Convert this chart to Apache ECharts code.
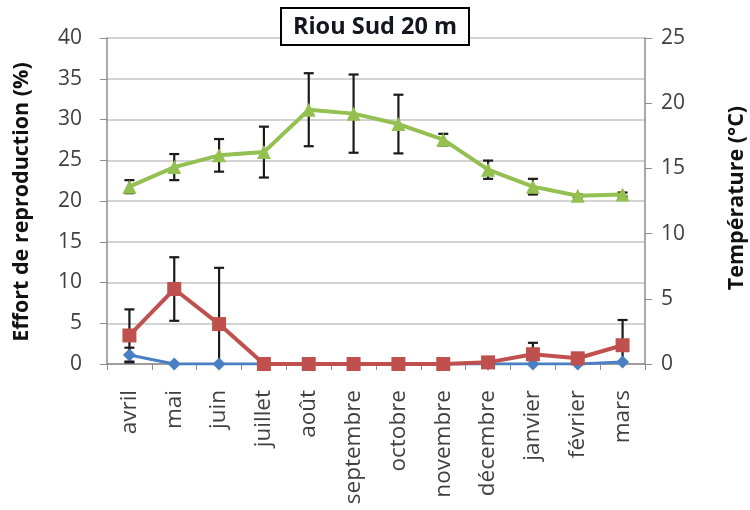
<!DOCTYPE html>
<html>
<head>
<meta charset="utf-8">
<script src="https://cdn.jsdelivr.net/npm/echarts@6/dist/echarts.min.js"></script>
<style>html,body{margin:0;padding:0;background:#fff;}#c{width:750px;height:510px;}</style>
</head>
<body>
<div id="c"></div>
<script>
const months = ['avril','mai','juin','juillet','août','septembre','octobre','novembre','décembre','janvier','février','mars'];
const temperature = [13.6, 15.1, 16.0, 16.25, 19.5, 19.2, 18.4, 17.2, 14.9, 13.6, 12.9, 13.0];
const temperatureErr = [0.5, 1.0, 1.25, 1.95, 2.8, 3.0, 2.25, 0.45, 0.7, 0.6, 0.1, 0.15];
const effortRed = [3.5, 9.2, 4.9, 0, 0, 0, 0, 0, 0.2, 1.2, 0.7, 2.3];
const effortRedErr = [3.2, 3.9, 6.9, 0, 0, 0, 0, 0, 0.2, 1.4, 0.3, 3.1];
const effortBlue = [1.1, 0, 0, 0, 0, 0, 0, 0, 0, 0, 0, 0.25];
const effortBlueErr = [0.9, 0, 0, 0, 0, 0, 0, 0, 0, 0, 0, 0];
const leftTicks = {min: 0, max: 40, interval: 5};
const rightTicks = {min: 0, max: 25, interval: 5};

const FONT = '"Open Sans", "Liberation Sans", sans-serif';

function errorBars(vals, errs, yAxisIndex) {
  return {
    type: 'custom',
    yAxisIndex: yAxisIndex,
    clip: true,
    z: 1,
    silent: true,
    data: vals.map((v, i) => [i, v - errs[i], v + errs[i], errs[i]]),
    renderItem: function (params, api) {
      if (api.value(3) <= 0) return null;
      const x = api.value(0);
      const lo = api.coord([x, api.value(1)]);
      const hi = api.coord([x, api.value(2)]);
      const w = 5;
      const st = {stroke: '#1a1a1a', lineWidth: 2.2};
      return {
        type: 'group',
        children: [
          {type: 'line', shape: {x1: lo[0], y1: lo[1], x2: hi[0], y2: hi[1]}, style: st},
          {type: 'line', shape: {x1: lo[0] - w, y1: lo[1], x2: lo[0] + w, y2: lo[1]}, style: st},
          {type: 'line', shape: {x1: hi[0] - w, y1: hi[1], x2: hi[0] + w, y2: hi[1]}, style: st}
        ]
      };
    }
  };
}

const chart = echarts.init(document.getElementById('c'), null, {renderer: 'canvas'});
chart.setOption({
  animation: false,
  backgroundColor: '#fff',
  title: {
    text: 'Riou Sud 20 m',
    left: 'center',
    top: 8,
    padding: [7, 12, 6, 12],
    borderColor: '#000',
    borderWidth: 2,
    backgroundColor: '#fff',
    textStyle: {fontFamily: FONT, fontSize: 23.5, fontWeight: 'bold', color: '#151520'}
  },
  grid: {left: 107, right: 105, top: 38, bottom: 146},
  xAxis: {
    type: 'category',
    data: months,
    boundaryGap: true,
    axisLine: {lineStyle: {color: '#8c8c8c', width: 1.5}},
    axisTick: {show: true, length: 6, alignWithLabel: false, lineStyle: {color: '#8c8c8c'}},
    axisLabel: {rotate: 90, margin: 26, fontFamily: FONT, fontSize: 22.5, color: '#404040', interval: 0},
    splitLine: {show: false}
  },
  yAxis: [
    {
      type: 'value', min: leftTicks.min, max: leftTicks.max, interval: leftTicks.interval,
      position: 'left',
      axisLine: {show: true, lineStyle: {color: '#8c8c8c', width: 1.5}},
      axisTick: {show: true, length: 7, lineStyle: {color: '#8c8c8c'}},
      axisLabel: {margin: 25, fontFamily: FONT, fontSize: 21, color: '#404040'},
      splitLine: {show: true, lineStyle: {color: '#c4c4c4', width: 1.5}}
    },
    {
      type: 'value', min: rightTicks.min, max: rightTicks.max, interval: rightTicks.interval,
      position: 'right',
      axisLine: {show: true, lineStyle: {color: '#8c8c8c', width: 1.5}},
      axisTick: {show: true, length: 7, lineStyle: {color: '#8c8c8c'}},
      axisLabel: {margin: 16, fontFamily: FONT, fontSize: 21, color: '#404040'},
      splitLine: {show: false}
    }
  ],
  graphic: [
    {type: 'text', x: 22, y: 202, rotation: Math.PI / 2,
     style: {text: 'Effort de reproduction (%)', fontFamily: FONT, fontSize: 21.5, fontWeight: 'bold', fill: '#111', textAlign: 'center', textVerticalAlign: 'middle'}},
    {type: 'text', x: 737, y: 198, rotation: Math.PI / 2,
     style: {text: 'Température (°C)', fontFamily: FONT, fontSize: 21.5, fontWeight: 'bold', fill: '#111', textAlign: 'center', textVerticalAlign: 'middle'}}
  ],
  series: [
    errorBars(temperature, temperatureErr, 1),
    errorBars(effortRed, effortRedErr, 0),
    errorBars(effortBlue, effortBlueErr, 0),
    {
      name: 'blue', type: 'line', yAxisIndex: 0, data: effortBlue, z: 2,
      symbol: 'diamond', symbolSize: 13,
      lineStyle: {color: '#4a7fc4', width: 3},
      itemStyle: {color: '#4a7fc4'}
    },
    {
      name: 'red', type: 'line', yAxisIndex: 0, data: effortRed, z: 3,
      symbol: 'rect', symbolSize: 14,
      lineStyle: {color: '#c0504d', width: 4},
      itemStyle: {color: '#c0504d'}
    },
    {
      name: 'temp', type: 'line', yAxisIndex: 1, data: temperature, z: 3,
      symbol: 'triangle', symbolSize: 14,
      lineStyle: {color: '#93c050', width: 4},
      itemStyle: {color: '#93c050'}
    }
  ]
});
</script>
</body>
</html>
